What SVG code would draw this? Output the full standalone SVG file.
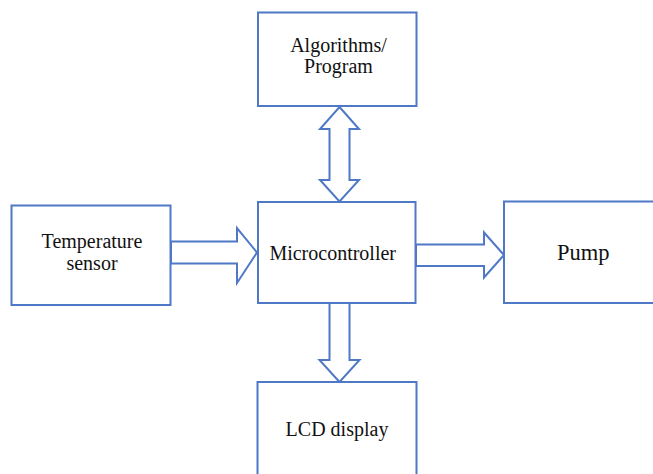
<svg xmlns="http://www.w3.org/2000/svg" width="653" height="474" viewBox="0 0 653 474">
  <style>
    .box { fill: #ffffff; stroke: #4f79c6; stroke-width: 2; }
    .arrow { fill: #ffffff; stroke: #4f79c6; stroke-width: 2; stroke-linejoin: miter; }
    .label { font-family: "Liberation Serif", "Times New Roman", serif; font-size: 20px; fill: #111111; text-anchor: middle; }
    .big { font-size: 22.5px; }
  </style>
  <rect width="653" height="474" fill="#ffffff"/>

  <g id="connectors">
    <!-- two-way link between program block and controller -->
    <polygon class="arrow" points="339.5,107 359,129 349.5,129 349.5,180 359,180 339.5,201.5 320,180 329.5,180 329.5,129 320,129"/>
    <!-- sensor to controller -->
    <polygon class="arrow" points="171,241.5 237,241.5 237,228 257,252.5 237,283 237,263.5 171,263.5"/>
    <!-- controller to pump -->
    <polygon class="arrow" points="416,244.5 484,244.5 484,232.5 504,255 484,277.5 484,266 416,266"/>
    <!-- controller to display -->
    <polygon class="arrow" points="329.5,303 349.5,303 349.5,360 359.5,360 339.5,382 319.5,360 329.5,360"/>
  </g>

  <g id="algorithms">
    <rect class="box" x="258" y="12.5" width="158.5" height="93.5"/>
    <text class="label" x="338.5" y="51.5">Algorithms/</text>
    <text class="label" x="338.5" y="72.5">Program</text>
  </g>

  <g id="microcontroller">
    <rect class="box" x="258" y="202" width="157.5" height="101"/>
    <text class="label" x="332.7" y="259.5">Microcontroller</text>
  </g>

  <g id="temperature-sensor">
    <rect class="box" x="11.5" y="205.5" width="159" height="99.5"/>
    <text class="label" x="92" y="248" font-size="19.5">Temperature</text>
    <text class="label" x="92" y="269.5">sensor</text>
  </g>

  <g id="pump">
    <rect class="box" x="504" y="201.5" width="152" height="101.5"/>
    <text class="label big" x="583.3" y="259.5">Pump</text>
  </g>

  <g id="lcd-display">
    <rect class="box" x="257.5" y="382" width="159" height="96"/>
    <text class="label" x="337" y="435.5">LCD display</text>
  </g>
</svg>
